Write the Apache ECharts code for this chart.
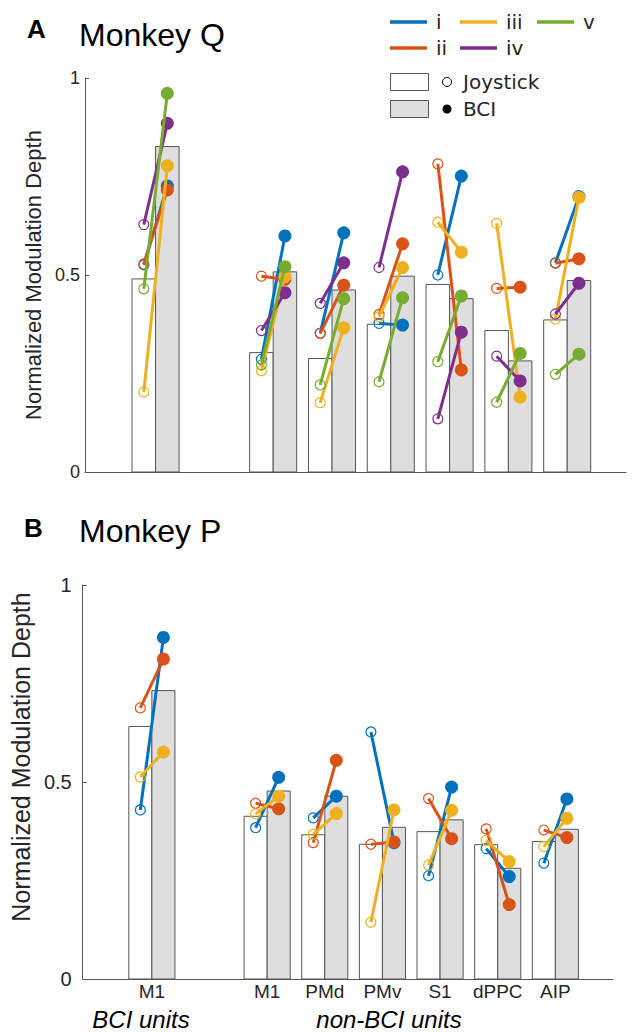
<!DOCTYPE html>
<html>
<head>
<meta charset="utf-8">
<script src="https://cdn.jsdelivr.net/npm/echarts@6/dist/echarts.min.js"></script>
<style>
html, body { margin: 0; padding: 0; background: #fff; }
#chart { width: 636px; height: 1032px; }
</style>
</head>
<body>
<div id="chart"></div>
<script>
// x positions of the areas (1 is the gap between BCI and non-BCI units)
var positions = [0, 2, 3, 4, 5, 6, 7];
var areaLabels = ['M1', 'M1', 'PMd', 'PMv', 'S1', 'dPPC', 'AIP'];
var unitNames = ['i', 'ii', 'iii', 'iv', 'v'];
var unitColors = ['#0072BD', '#D95319', '#EDB120', '#7E2F8E', '#77AC30'];
var yTicks = [0, 0.5, 1];

// Monkey Q - mean bars
var qJoyBar = [0.490, 0.303, 0.288, 0.375, 0.476, 0.359, 0.386];
var qBciBar = [0.826, 0.508, 0.462, 0.497, 0.440, 0.282, 0.486];
// Monkey Q - example units (joystick / BCI)
var qJoyI   = [0.526, 0.286, 0.352, 0.377, 0.500, null,  0.531];
var qBciI   = [0.726, 0.599, 0.607, 0.373, 0.751, null,  0.699];
var qJoyII  = [0.528, 0.497, 0.352, 0.400, 0.782, 0.466, 0.530];
var qBciII  = [0.716, 0.489, 0.474, 0.579, 0.259, 0.469, 0.541];
var qJoyIII = [0.203, 0.257, 0.176, 0.394, 0.634, 0.631, 0.388];
var qBciIII = [0.777, 0.496, 0.366, 0.519, 0.558, 0.190, 0.697];
var qJoyIV  = [0.628, 0.359, 0.428, 0.519, 0.135, 0.294, 0.401];
var qBciIV  = [0.885, 0.455, 0.531, 0.762, 0.355, 0.231, 0.479];
var qJoyV   = [0.465, 0.272, 0.221, 0.229, 0.280, 0.177, 0.248];
var qBciV   = [0.961, 0.521, 0.440, 0.442, 0.447, 0.301, 0.299];

// Monkey P - mean bars
var pJoyBar = [0.641, 0.413, 0.366, 0.342, 0.374, 0.341, 0.349];
var pBciBar = [0.732, 0.477, 0.464, 0.385, 0.404, 0.281, 0.380];
// Monkey P - example units
var pJoyI   = [0.429, 0.384, 0.409, 0.627, 0.262, 0.331, 0.294];
var pBciI   = [0.867, 0.512, 0.464, 0.346, 0.487, 0.260, 0.457];
var pJoyII  = [0.688, 0.446, 0.346, 0.342, 0.458, 0.381, 0.378];
var pBciII  = [0.812, 0.432, 0.555, 0.348, 0.356, 0.189, 0.359];
var pJoyIII = [0.513, 0.419, 0.367, 0.144, 0.289, 0.352, 0.336];
var pBciIII = [0.576, 0.464, 0.420, 0.429, 0.428, 0.298, 0.408];

var qUnits = [[qJoyI, qBciI], [qJoyII, qBciII], [qJoyIII, qBciIII], [qJoyIV, qBciIV], [qJoyV, qBciV]];
var pUnits = [[pJoyI, pBciI], [pJoyII, pBciII], [pJoyIII, pBciIII]];

var axisColor = '#555';
var textColor = '#262626';
var half = 0.2; // joystick bar centred at pos-0.2, BCI bar at pos+0.2

function barRender(offset, fill) {
	return function(params, api) {
		var x = api.value(0) + offset, v = api.value(1);
		var p0 = api.coord([x - half, v]);
		var p1 = api.coord([x + half, 0]);
		return {
			type: 'rect',
			shape: { x: p0[0], y: p0[1], width: p1[0] - p0[0], height: p1[1] - p0[1] },
			style: { fill: fill, stroke: axisColor, lineWidth: 1 }
		};
	};
}

function unitRender(color) {
	return function(params, api) {
		var x = api.value(0);
		var a = api.coord([x - half, api.value(1)]);
		var b = api.coord([x + half, api.value(2)]);
		return {
			type: 'group',
			children: [
				{ type: 'line', shape: { x1: a[0], y1: a[1], x2: b[0], y2: b[1] }, style: { stroke: color, lineWidth: 3 } },
				{ type: 'circle', shape: { cx: a[0], cy: a[1], r: 5 }, style: { fill: 'none', stroke: color, lineWidth: 1.2 } },
				{ type: 'circle', shape: { cx: b[0], cy: b[1], r: 6.5 }, style: { fill: color } }
			]
		};
	};
}

function barData(vals) {
	return positions.map(function(p, i) { return [p, vals[i]]; });
}
function unitData(joy, bci) {
	var out = [];
	for (var i = 0; i < positions.length; i++) {
		if (joy[i] != null) out.push([positions[i], joy[i], bci[i]]);
	}
	return out;
}

var series = [];
function addPanel(idx, joyBar, bciBar, units) {
	series.push({ type: 'custom', xAxisIndex: idx, yAxisIndex: idx, renderItem: barRender(-half, '#fff'), data: barData(joyBar), silent: true });
	series.push({ type: 'custom', xAxisIndex: idx, yAxisIndex: idx, renderItem: barRender(half, '#dedede'), data: barData(bciBar), silent: true });
	units.forEach(function(u, k) {
		series.push({ type: 'custom', name: unitNames[k], xAxisIndex: idx, yAxisIndex: idx, renderItem: unitRender(unitColors[k]), data: unitData(u[0], u[1]), silent: true });
	});
}
addPanel(0, qJoyBar, qBciBar, qUnits);
addPanel(1, pJoyBar, pBciBar, pUnits);

function yAxisCfg(idx, fontSize, margin, nameSize, nameGap, namePad) {
	return {
		gridIndex: idx, type: 'value', min: 0, max: 1, interval: 0.5,
		axisLine: { show: true, onZero: false, lineStyle: { color: axisColor, width: 1 } },
		axisTick: { show: true, inside: true, length: 4, lineStyle: { color: axisColor } },
		axisLabel: { fontSize: fontSize, color: textColor, margin: margin, formatter: function(v) { return String(v); } },
		splitLine: { show: false },
		name: 'Normalized Modulation Depth', nameLocation: 'middle', nameGap: nameGap,
		nameTextStyle: { fontSize: nameSize, color: textColor, padding: namePad }
	};
}

function xAxisCfg(idx, showLabels) {
	return {
		gridIndex: idx, type: 'value', min: -1.2, max: 8,
		axisLine: { show: true, onZero: false, lineStyle: { color: axisColor, width: 1 } },
		axisTick: { show: false },
		splitLine: { show: false },
		axisLabel: {
			show: showLabels, customValues: positions, fontSize: 19, color: textColor, margin: 3,
			formatter: function(v) { var i = positions.indexOf(v); return i < 0 ? '' : areaLabels[i]; }
		}
	};
}

var legendFont = '20px "DejaVu Sans"';
var legendGraphics = [];
var legendCols = [[390, 22], [390, 48], [460, 22], [460, 48], [537, 22]];
unitNames.forEach(function(n, k) {
	var c = legendCols[k];
	legendGraphics.push({ type: 'line', shape: { x1: c[0], y1: c[1], x2: c[0] + 37, y2: c[1] }, style: { stroke: unitColors[k], lineWidth: 3.5 } });
	legendGraphics.push({ type: 'text', x: c[0] + 46, y: c[1], style: { text: n, fill: textColor, font: legendFont, verticalAlign: 'middle' } });
});
legendGraphics.push(
	{ type: 'rect', shape: { x: 390.5, y: 73.5, width: 38, height: 17 }, style: { fill: '#fff', stroke: axisColor, lineWidth: 1 } },
	{ type: 'rect', shape: { x: 390.5, y: 100.5, width: 38, height: 17 }, style: { fill: '#dedede', stroke: axisColor, lineWidth: 1 } },
	{ type: 'circle', shape: { cx: 447, cy: 82, r: 4.5 }, style: { fill: 'none', stroke: '#000', lineWidth: 1 } },
	{ type: 'circle', shape: { cx: 447, cy: 109, r: 4.5 }, style: { fill: '#000' } },
	{ type: 'text', x: 463, y: 82, style: { text: 'Joystick', fill: textColor, font: legendFont, verticalAlign: 'middle' } },
	{ type: 'text', x: 463, y: 109, style: { text: 'BCI', fill: textColor, font: legendFont, verticalAlign: 'middle' } }
);

var titleGraphics = [
	{ type: 'text', x: 27, y: 29, style: { text: 'A', fill: '#000', font: 'bold 26px "Liberation Sans"', verticalAlign: 'middle' } },
	{ type: 'text', x: 79, y: 35, style: { text: 'Monkey Q', fill: '#000', font: '32px "Liberation Sans"', verticalAlign: 'middle' } },
	{ type: 'text', x: 24, y: 528, style: { text: 'B', fill: '#000', font: 'bold 26px "Liberation Sans"', verticalAlign: 'middle' } },
	{ type: 'text', x: 79, y: 531, style: { text: 'Monkey P', fill: '#000', font: '32px "Liberation Sans"', verticalAlign: 'middle' } },
	{ type: 'text', x: 141, y: 1019, style: { text: 'BCI units', fill: '#000', font: 'italic 24px "Liberation Sans"', align: 'center', verticalAlign: 'middle' } },
	{ type: 'text', x: 389, y: 1019, style: { text: 'non-BCI units', fill: '#000', font: 'italic 24px "Liberation Sans"', align: 'center', verticalAlign: 'middle' } }
];

var chart = echarts.init(document.getElementById('chart'), null, { renderer: 'svg' });
chart.setOption({
	backgroundColor: '#fff',
	animation: false,
	textStyle: { fontFamily: '"Liberation Sans", Arial, sans-serif' },
	grid: [
		{ left: 85, top: 78, width: 541, height: 394 },
		{ left: 72, top: 585, width: 541, height: 394 }
	],
	xAxis: [xAxisCfg(0, false), xAxisCfg(1, true)],
	yAxis: [yAxisCfg(0, 18, 5, 22, 41, 0), yAxisCfg(1, 20, 11, 25, 40, [0, 0, 0, 50])],
	graphic: legendGraphics.concat(titleGraphics),
	series: series
});
</script>
</body>
</html>
